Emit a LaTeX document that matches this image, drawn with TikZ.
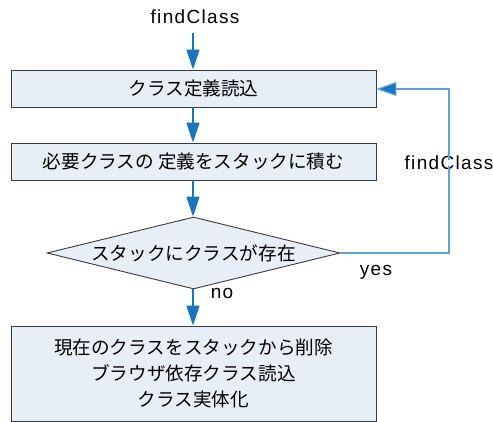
\documentclass[tikz,border=0pt]{standalone}
\usepackage{fontspec}
\setmainfont{Noto Sans CJK JP}
\newfontfamily\latinf[LetterSpace=7]{Liberation Sans}
\usetikzlibrary{arrows.meta,shapes.geometric}
\definecolor{boxfill}{HTML}{E7EEF6}
\definecolor{boxline}{HTML}{3A3A3A}
\definecolor{arrblue}{HTML}{1B75BC}
\definecolor{loopblue}{HTML}{5BA3D8}
\tikzset{
  procbox/.style={draw=boxline,fill=boxfill,line width=0.9pt,minimum width=365pt,inner sep=0pt,font=\fontsize{18.6pt}{26pt}\selectfont,align=center},
  decbox/.style={draw=boxline,fill=boxfill,line width=0.9pt,diamond,aspect=4.07,minimum width=293pt,minimum height=72pt,inner sep=0pt,font=\fontsize{18.6pt}{22pt}\selectfont},
  flow/.style={draw=arrblue,line width=1.4pt,-{Triangle[length=20pt,width=13pt,fill=arrblue]}},
  loopflow/.style={draw=loopblue,line width=1.2pt,-{Triangle[length=20pt,width=14pt,fill=arrblue]}},
  lbl/.style={font=\latinf\fontsize{19pt}{22pt}\selectfont,inner sep=0pt}
}
\begin{document}
\begin{tikzpicture}[x=1pt,y=-1pt]
\useasboundingbox (0,0) rectangle (493,422);
\node[lbl] (fc) at (195,17) {findClass};
\coordinate (fcs) at (193,33);
\node[procbox,minimum height=37pt] (b1) at (193.5,88.5) {クラス定義読込};
\node[procbox,minimum height=37pt] (b2) at (193.5,161.5) {必要クラスの 定義をスタックに積む};
\node[decbox] (d) at (193.5,253) {スタックにクラスが存在};
\node[procbox,minimum height=95pt] (b3) at (193.5,373.5) {現在のクラスをスタックから削除\\ブラウザ依存クラス読込\\クラス実体化};
\node[lbl] (yes) at (376,272) {yes};
\node[lbl] (no) at (222,293) {no};
\node[lbl] (fc2) at (449,163) {findClass};
\coordinate (c1) at (449,253);
\coordinate (c2) at (449,89);
\draw[flow] (fcs) -- (fcs|-b1.north);
\draw[flow] (b1.south-|fcs) -- (b2.north-|fcs);
\draw[flow] (b2.south-|fcs) -- (d.north-|fcs);
\draw[flow] (d.south-|fcs) -- (b3.north-|fcs);
\draw[draw=loopblue,line width=1.2pt] (d.east) -- (c1) -- ([yshift=4pt]fc2.south);
\draw[loopflow] ([yshift=-4pt]fc2.north) -- (c2) -- (b1.east|-c2);
\end{tikzpicture}
\end{document}
